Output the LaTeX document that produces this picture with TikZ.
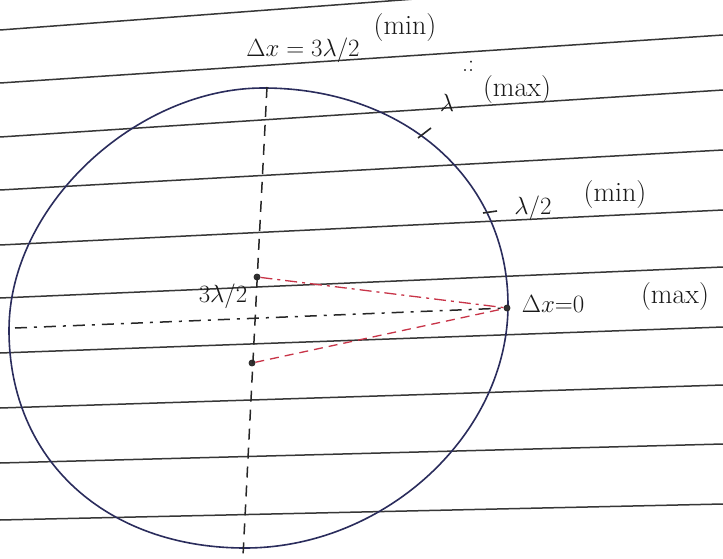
\documentclass[tikz,border=0pt]{standalone}
\usepackage{fontspec}
\definecolor{navyink}{RGB}{42,44,92}
\definecolor{redink}{RGB}{200,52,72}
\definecolor{ruleink}{RGB}{55,55,55}
\begin{document}
\begin{tikzpicture}[x=1pt,y=-1pt,
  rule/.style={draw=ruleink, line width=1.5pt},
  ring/.style={draw=navyink, line width=1.6pt},
  inkdot/.style={circle, draw=black!85, fill=black!80, line width=0.8pt, inner sep=0pt, minimum size=6pt},
  lbl/.style={text=black!90, font=\fontsize{24}{28}\selectfont, inner sep=0pt},
  wordlbl/.style={text=black!90, font=\fontsize{28}{32}\selectfont, inner sep=0pt},
  axisv/.style={draw=black!85, line width=1.5pt, dash pattern=on 11pt off 8pt},
  axish/.style={draw=black!85, line width=1.5pt, dash pattern=on 12pt off 7pt on 3pt off 7pt},
  redline/.style={draw=redink, line width=1.3pt, dash pattern=on 9pt off 6pt},
  redline2/.style={draw=redink, line width=1.3pt, dash pattern=on 12pt off 5pt on 3pt off 5pt},
  tickmark/.style={draw=black!85, line width=1.6pt}]
\useasboundingbox (0,0) rectangle (723,559);
\fill[white] (0,0) rectangle (723,559);
\begin{scope}
\clip (0,0) rectangle (723,559);
% ruled notebook lines
\draw[rule] (0,30) -- (723,-24);
\draw[rule] (0,83) -- (723,35);
\draw[rule] (0,137) -- (723,90);
\draw[rule] (0,190) -- (723,150);
\draw[rule] (0,245) -- (723,210);
\draw[rule] (0,298) -- (723,267);
\draw[rule] (0,353) -- (723,327);
\draw[rule] (0,408) -- (723,385);
\draw[rule] (0,463) -- (723,444);
\draw[rule] (0,520) -- (723,504);
\end{scope}
% the circle (hand drawn, slightly irregular)
\draw[ring] (263,88)
  .. controls (405,88) and (508,180) .. (508,305)
  .. controls (508,435) and (384,548) .. (245,548)
  .. controls (108,548) and (9,462) .. (9,330)
  .. controls (9,205) and (137,88) .. (263,88) -- cycle;
% points
\node[inkdot] (s1) at (257,277) {};
\node[inkdot] (s2) at (252,363) {};
\node[inkdot] (p) at (507,308) {};
\coordinate (v0) at (267,87);
\coordinate (v1) at (243,556);
\coordinate (h0) at (15,328);
% axes
\draw[axisv] (v0) -- (v1);
\draw[axish] (h0) -- (p);
% path lines
\draw[redline2] (s1) -- (p);
\draw[redline] (s2) -- (p);
% tick marks on the circle
\draw[tickmark] (418,138) -- (431,128);
\draw[tickmark] (483,213) -- (497,211);
% labels
\node[lbl] (t1) at (303,50) {$\Delta x=3\lambda/2$};
\node[wordlbl] (t1b) at (405,28) {(min)};
\node[lbl] (t2) at (447,103) {$\lambda$};
\node[wordlbl] (t2b) at (517,90) {(max)};
\node[lbl] (t3) at (533,208) {$\lambda/2$};
\node[wordlbl] (t3b) at (615,195) {(min)};
\node[lbl] (t4) at (553,304) {$\Delta x{=}0$};
\node[wordlbl] (t4b) at (675,297) {(max)};
\node[lbl] (t5) at (223,296) {$3\lambda/2$};
\node[lbl] (t6) at (468,66) {.:};
\end{tikzpicture}
\end{document}
